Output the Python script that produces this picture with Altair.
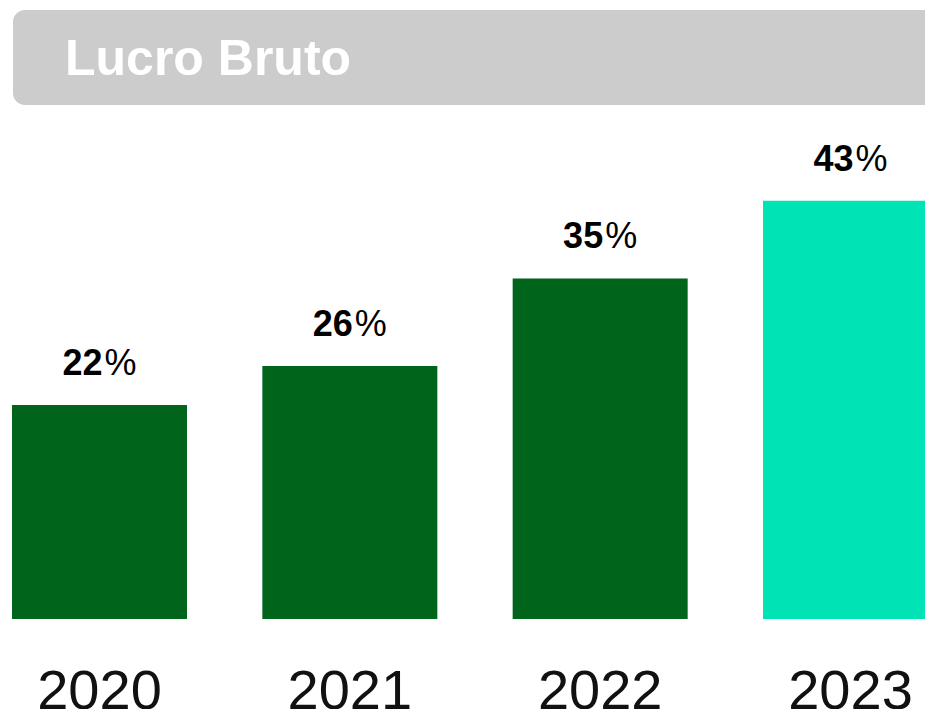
import altair as alt
import pandas as pd

years = ["2020", "2021", "2022", "2023"]
margins = [22, 26, 35, 43]
title_text = "Lucro Bruto"

bar_colors = ["#00641A", "#00641A", "#00641A", "#00E3B5"]

df = pd.DataFrame({"year": years, "value": margins})
df["num"] = df["value"].astype(str)
df["pct"] = "%"

W, H = 917, 611

x_enc = alt.X("year:N", sort=years,
              scale=alt.Scale(range=[0, 934], paddingInner=0.301, paddingOuter=0.016),
              axis=alt.Axis(title=None, labelAngle=0, ticks=False, domain=False,
                            labelFont="Liberation Sans", labelFontSize=56,
                            labelFontWeight=300, labelColor="#111111",
                            labelPadding=45))
y_enc = alt.Y("value:Q", scale=alt.Scale(domain=[0, 62.8], nice=False), axis=None)

base = alt.Chart(df)

bars = base.mark_bar(size=175).encode(
    x=x_enc, y=y_enc,
    color=alt.Color("year:N", scale=alt.Scale(domain=years, range=bar_colors), legend=None),
)

nums = base.mark_text(align="right", baseline="alphabetic", dx=3, dy=-30,
                      font="Liberation Sans", fontSize=36, fontWeight="bold",
                      color="#000000").encode(x=alt.X("year:N", sort=years), y="value:Q", text="num:N")

pcts = base.mark_text(align="left", baseline="alphabetic", dx=5, dy=-30,
                      font="Liberation Sans", fontSize=36, fontWeight="normal",
                      color="#000000").encode(x=alt.X("year:N", sort=years), y="value:Q", text="pct:N")

title_df = pd.DataFrame({"t": [title_text]})
title_box = alt.Chart(title_df).mark_rect(color="#CCCCCC", cornerRadius=12).encode(
    x=alt.value(5), x2=alt.value(960), y=alt.value(2), y2=alt.value(97))
title_lbl = alt.Chart(title_df).mark_text(align="left", baseline="alphabetic",
                                          font="Liberation Sans", fontSize=50,
                                          fontWeight="bold", color="#FFFFFF").encode(
    x=alt.value(57), y=alt.value(67), text="t:N")

chart = alt.layer(bars, nums, pcts, title_box, title_lbl).properties(
    width=W, height=H,
    autosize=alt.AutoSizeParams(type="none"),
    padding={"left": 0, "top": 0, "right": 0, "bottom": 90},
).configure_view(stroke=None).configure_axis(grid=False)

chart.save("out.html", embed_options={"renderer": "svg", "actions": False})
